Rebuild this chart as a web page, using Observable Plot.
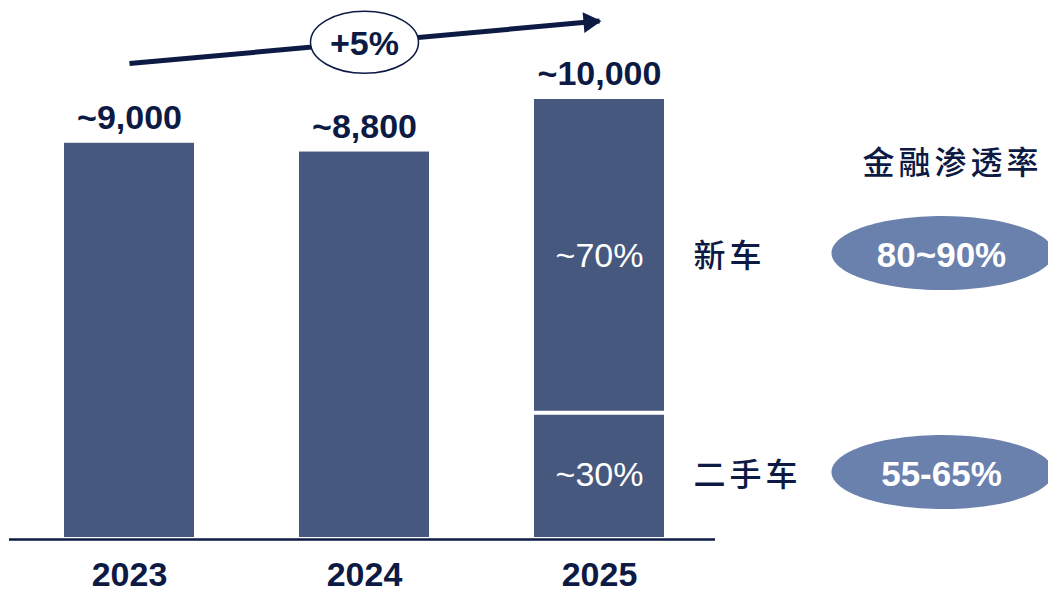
<!DOCTYPE html>
<html><head><meta charset="utf-8">
<script src="https://cdn.jsdelivr.net/npm/d3@7"></script>
<script src="https://cdn.jsdelivr.net/npm/@observablehq/plot@0.6"></script>
<style>
body{margin:0;background:#fff}
#chart svg{display:block}
.cjk text{letter-spacing:4px}
</style>
</head><body><div id="chart"></div>
<script>
// ---- data ----
const years = ["2023", "2024", "2025"];
const totals = [9000, 8800, 10000];
const totalLabels = ["~9,000", "~8,800", "~10,000"];
const segYears = ["2023", "2024", "2025", "2025"];
const segParts = ["all", "all", "used", "new"];
const segValues = [9000, 8800, 2850, 7150];
const shareParts = ["used", "new"];
const shareLabels = ["~30%", "~70%"];
const shareNames = ["二手车", "新车"];
const penetration = ["55-65%", "80~90%"];
const penetrationTitle = "金融渗透率";
const growthLabel = "+5%";
const growthFrom = {year: "2023", value: 10820};
const growthTo = {year: "2025", value: 11790};
const titleValue = 8540;

// ---- styles ----
const navy = "#0c1a44";
const barColor = "#46587e";
const pillColor = "#6b81ad";

// ---- tables ----
const segments = segYears.map((y, i) => ({year: y, part: segParts[i], value: segValues[i]}));
const totalRows = years.map((y, i) => ({year: y, total: totals[i], label: totalLabels[i]}));
let acc = 0;
const shareRows = shareParts.map((p, i) => {
  const v = segments.find(s => s.year === "2025" && s.part === p).value;
  const mid = acc + v / 2; acc += v;
  return {year: "2025", part: p, mid, label: shareLabels[i], name: shareNames[i], pen: penetration[i]};
});
const splitRow = [{year: "2025", value: segments.find(s => s.year === "2025" && s.part === "used").value}];

const ellipse = (rx, ry) => ({
  draw(ctx) {
    const k = 0.5522847;
    ctx.moveTo(rx, 0);
    ctx.bezierCurveTo(rx, ry * k, rx * k, ry, 0, ry);
    ctx.bezierCurveTo(-rx * k, ry, -rx, ry * k, -rx, 0);
    ctx.bezierCurveTo(-rx, -ry * k, -rx * k, -ry, 0, -ry);
    ctx.bezierCurveTo(rx * k, -ry, rx, -ry * k, rx, 0);
    ctx.closePath();
  }
});

const growthMid = (growthFrom.value + growthTo.value) / 2;

const chart = Plot.plot({
  width: 1048, height: 593,
  marginLeft: 9, marginRight: 333, marginTop: 0, marginBottom: 56,
  x: {domain: years, paddingInner: 0.447, paddingOuter: 0.2255, align: 0.52, axis: null},
  y: {domain: [0, 12260], axis: null},
  style: {fontFamily: "'Liberation Sans', Arial, sans-serif", background: "white", overflow: "visible"},
  marks: [
    Plot.barY(segments, Plot.stackY({x: "year", y: "value", fill: barColor})),
    Plot.tickY(splitRow, {x: "year", y: "value", stroke: "white", strokeWidth: 4}),
    Plot.ruleY([0], {stroke: navy, strokeWidth: 2.5, dy: 2}),
    Plot.text(years, {x: d => d, y: () => 0, text: d => d, dy: 38, fontSize: 34, fontWeight: "bold", fill: navy}),
    Plot.text(totalRows, {x: "year", y: "total", text: "label", lineAnchor: "bottom", dy: -14, fontSize: 34, fontWeight: "bold", fill: navy}),
    Plot.text(shareRows, {x: "year", y: "mid", text: "label", fontSize: 34, fill: "white"}),
    // growth arrow
    Plot.link([{x1: growthFrom.year, y1: growthFrom.value, x2: growthTo.year, y2: growthTo.value}],
      {x1: "x1", y1: "y1", x2: "x2", y2: "y2", stroke: navy, strokeWidth: 5, strokeLinecap: "butt"}),
    Plot.dot([growthTo], {x: "year", y: "value", symbol: "triangle", r: 7.7, rotate: 85, dx: -10, dy: 1, fill: navy, stroke: null}),
    Plot.dot([{year: "2024", value: growthMid}], {x: "year", y: "value", symbol: ellipse(54, 31), fill: "white", stroke: navy, strokeWidth: 1.5}),
    Plot.text([{year: "2024", value: growthMid}], {x: "year", y: "value", text: () => growthLabel, dy: 2, fontSize: 34, fontWeight: "bold", fill: navy}),
    // right-side annotations
    Plot.text(shareRows, {x: "year", y: "mid", text: "name", textAnchor: "start", dx: 94, dy: 1, fontSize: 32, fill: navy,
      fontFamily: "'Noto Sans CJK SC', sans-serif", fontWeight: 500, className: "cjk"}),
    Plot.dot(shareRows, {x: "year", y: "mid", symbol: ellipse(111, 37), dx: 343, dy: -3, fill: pillColor, stroke: null}),
    Plot.text(shareRows, {x: "year", y: "mid", text: "pen", dx: 342, fontSize: 35, fontWeight: "bold", fill: "white"}),
    Plot.text([{year: "2025", value: titleValue}], {x: "year", y: "value", text: () => penetrationTitle, dx: 353, fontSize: 32, fill: navy,
      fontFamily: "'Noto Sans CJK SC', sans-serif", fontWeight: 500, className: "cjk"})
  ]
});
document.getElementById("chart").append(chart);
</script>
</body></html>
